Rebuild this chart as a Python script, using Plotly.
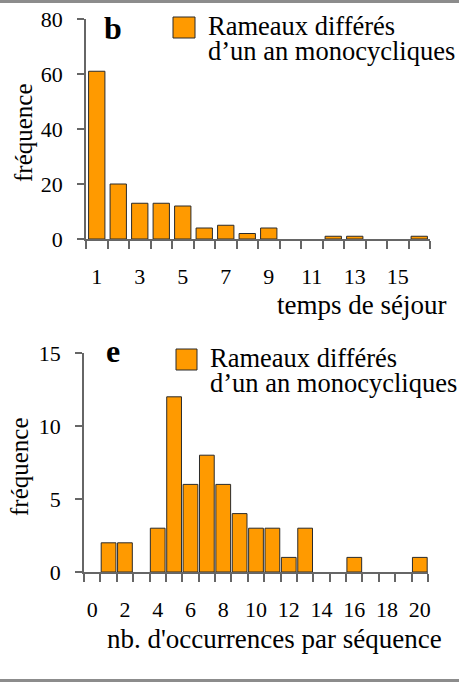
import plotly.graph_objects as go

# Panel b: residence time distribution
sejour = list(range(1, 17))
freq_sejour = [61, 20, 13, 13, 12, 4, 5, 2, 4, 0, 0, 1, 1, 0, 0, 1]
sejour_ticks = [1, 3, 5, 7, 9, 11, 13, 15]

# Panel e: number of occurrences per sequence
occurrences = list(range(0, 21))
freq_occ = [0, 2, 2, 0, 3, 12, 6, 8, 6, 4, 3, 3, 1, 3, 0, 0, 1, 0, 0, 0, 1]
occ_ticks = [0, 2, 4, 6, 8, 10, 12, 14, 16, 18, 20]

series_name = "Rameaux différés d’un an monocycliques"

W, H = 459, 686
FONT = '"Liberation Serif", "Times New Roman", Times, serif'
BAR = "#FF9A00"
EDGE = "#2b2b2b"
AXIS = "#666666"
TXT = 27
LEG = 26.5


def px(x):
    return x / W


def py(y):
    return 1 - y / H


def outline_widths(values):
    # empty classes get no outline so they don't darken the axis line
    return [1 if v > 0 else 0 for v in values]


fig = go.Figure()

fig.add_trace(go.Bar(
    x=sejour, y=freq_sejour, width=0.76, name=series_name,
    marker=dict(color=BAR, line=dict(color=EDGE, width=outline_widths(freq_sejour))),
    xaxis="x", yaxis="y", showlegend=False,
))
fig.add_trace(go.Bar(
    x=occurrences, y=freq_occ, width=0.9, name=series_name,
    marker=dict(color=BAR, line=dict(color=EDGE, width=outline_widths(freq_occ))),
    xaxis="x2", yaxis="y2", showlegend=False,
))


def xaxis_cfg(cats, ticks, domain):
    bounds = [c - 0.5 for c in cats] + [cats[-1] + 0.5]
    return dict(
        domain=domain, range=[cats[0] - 0.5, cats[-1] + 0.5], automargin=False,
        tickmode="array", tickvals=ticks, ticktext=[str(t) for t in ticks],
        ticks="", showline=True, linecolor=AXIS, linewidth=1.5,
        showgrid=False, zeroline=False, ticklabelstandoff=17,
        tickfont=dict(family=FONT, size=22, color="black"),
        minor=dict(tickmode="array", tickvals=bounds, ticks="outside",
                   ticklen=8, tickwidth=1.5, tickcolor=AXIS, showgrid=False),
    )


def yaxis_cfg(rng, dtick, domain):
    return dict(
        domain=domain, range=rng, tickmode="linear", tick0=0, dtick=dtick,
        automargin=False,
        ticks="outside", ticklen=7, tickwidth=1.5, tickcolor=AXIS,
        showline=True, linecolor=AXIS, linewidth=1.5,
        showgrid=False, zeroline=False, ticklabelstandoff=10,
        tickfont=dict(family=FONT, size=22, color="black"),
    )


fig.update_layout(
    width=W, height=H, autosize=False,
    margin=dict(l=0, r=0, t=0, b=0, pad=0, autoexpand=False),
    paper_bgcolor="white", plot_bgcolor="white",
    showlegend=False,
    font=dict(family=FONT, color="black"),
    xaxis=dict(xaxis_cfg(sejour, sejour_ticks, [px(86), px(430)]), anchor="y"),
    yaxis=dict(yaxis_cfg([0, 80], 20, [py(239), py(19)]), anchor="x"),
    xaxis2=dict(xaxis_cfg(occurrences, occ_ticks, [px(84), px(428)]), anchor="y2"),
    yaxis2=dict(yaxis_cfg([0, 15], 5, [py(572), py(353)]), anchor="x2"),
)

ann = []
shapes = []


def panel_text(letter, lx, ly, sw, l1, l2, ytitle_x, ytitle_y, xtitle, xt_x, xt_y, xt_anchor):
    ann.append(dict(text=f"<b>{letter}</b>", x=px(lx), y=py(ly), xref="paper", yref="paper",
                    xanchor="center", yanchor="middle", showarrow=False,
                    font=dict(family=FONT, size=32, color="black")))
    ann.append(dict(text="Rameaux différés", x=px(l1[0]), y=py(l1[1]), xref="paper", yref="paper",
                    xanchor="left", yanchor="middle", showarrow=False,
                    font=dict(family=FONT, size=LEG, color="black")))
    ann.append(dict(text="d’un an monocycliques", x=px(l2[0]), y=py(l2[1]), xref="paper", yref="paper",
                    xanchor="left", yanchor="middle", showarrow=False,
                    font=dict(family=FONT, size=LEG, color="black")))
    ann.append(dict(text="fréquence", x=px(ytitle_x), y=py(ytitle_y), xref="paper", yref="paper",
                    xanchor="center", yanchor="middle", textangle=-90, showarrow=False,
                    font=dict(family=FONT, size=25, color="black")))
    ann.append(dict(text=xtitle, x=px(xt_x), y=py(xt_y), xref="paper", yref="paper",
                    xanchor=xt_anchor, yanchor="middle", showarrow=False,
                    font=dict(family=FONT, size=TXT, color="black")))
    shapes.append(dict(type="rect", xref="paper", yref="paper",
                       x0=px(sw[0]), x1=px(sw[1]), y0=py(sw[3]), y1=py(sw[2]),
                       fillcolor=BAR, line=dict(color=EDGE, width=1)))


panel_text("b", 113, 28, (173, 195, 17, 38), (206, 26), (206, 51),
           23, 133, "temps de séjour", 448, 305, "right")
panel_text("e", 113, 351, (176, 197, 349, 370), (208, 358), (208, 383),
           19, 467, "nb. d'occurrences par séquence", 444, 639, "right")

# thin gray rules framing the figure
for yy in (1.5, 680.5):
    shapes.append(dict(type="line", xref="paper", yref="paper", x0=0, x1=1,
                       y0=py(yy), y1=py(yy), line=dict(color="#8c8c8c", width=3)))

fig.update_layout(annotations=ann, shapes=shapes)
fig.write_html("out.html")
